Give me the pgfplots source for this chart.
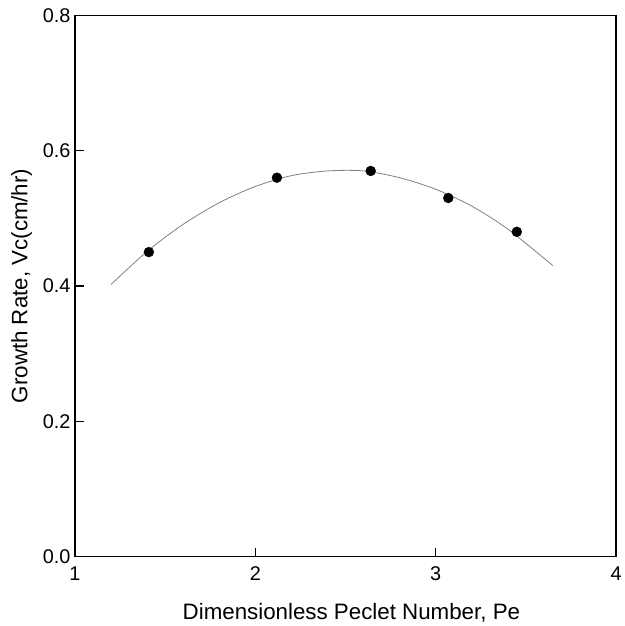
\documentclass[border=0pt]{standalone}
\usepackage{fontspec}
\setmainfont{Liberation Sans}
\usepackage{pgfplots}
\pgfplotsset{compat=1.18}
\begin{document}
\begin{tikzpicture}
\begin{axis}[
  scale only axis,
  width=545.5pt, height=545.5pt,
  xmin=1, xmax=4, ymin=0, ymax=0.8,
  xtick={1,2,3,4}, ytick={0,0.2,0.4,0.6,0.8},
  yticklabel style={/pgf/number format/fixed, /pgf/number format/fixed zerofill, /pgf/number format/precision=1},
  /pgf/number format/assume math mode=true,
  tick align=inside,
  xtick pos=bottom, ytick pos=left,
  major tick length=9pt,
  minor tick num=0,
  axis line style={line width=1.5pt},
  every tick/.style={black, line width=1.3pt},
  tick label style={font=\fontsize{20}{24}\selectfont},
  xticklabel style={yshift=-7pt},
  yticklabel style={xshift=-1pt},
  label style={font=\fontsize{22.5}{26}\selectfont},
  xlabel={Dimensionless Peclet Number, Pe},
  ylabel={Growth Rate, Vc(cm/hr)},
  xlabel style={yshift=-16pt, xshift=6pt},
  ylabel style={yshift=4pt},
]
\addplot[gray, line width=0.8pt, smooth, no marks] coordinates {
 (1.2,0.402) (1.4,0.451) (1.6,0.491) (1.8,0.523) (2.0,0.547) (2.2,0.563)
 (2.4,0.570) (2.6,0.570) (2.8,0.560) (3.0,0.543) (3.2,0.518) (3.4,0.484) (3.65,0.430)
};
\addplot[only marks, mark=*, mark size=5pt, black] coordinates {
 (1.41,0.45) (2.12,0.56) (2.64,0.57) (3.07,0.53) (3.45,0.48)
};
\end{axis}
\path ([shift={(-75.5pt,-65pt)}]current axis.south west) rectangle ([shift={(4pt,15.5pt)}]current axis.north east);
\end{tikzpicture}
\end{document}
